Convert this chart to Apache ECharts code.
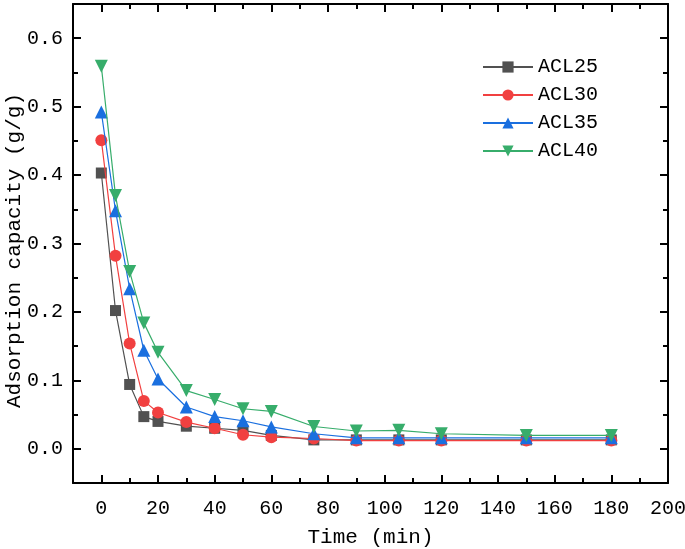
<!DOCTYPE html>
<html><head><meta charset="utf-8">
<script src="https://cdn.jsdelivr.net/npm/echarts@6/dist/echarts.min.js"></script>
<style>html,body{margin:0;padding:0;background:#fff}#c{width:685px;height:549px}</style>
</head><body><div id="c"></div>
<script>
var times = [0, 5, 10, 15, 20, 30, 40, 50, 60, 75, 90, 105, 120, 150, 180];
var acl25 = [0.403, 0.202, 0.094, 0.047, 0.040, 0.033, 0.030, 0.027, 0.0195, 0.013, 0.013, 0.013, 0.013, 0.013, 0.013];
var acl30 = [0.451, 0.282, 0.154, 0.070, 0.053, 0.039, 0.030, 0.0205, 0.017, 0.015, 0.012, 0.012, 0.012, 0.012, 0.012];
var acl35 = [0.492, 0.348, 0.234, 0.144, 0.102, 0.061, 0.047, 0.041, 0.032, 0.022, 0.016, 0.016, 0.016, 0.016, 0.016];
var acl40 = [0.559, 0.370, 0.259, 0.184, 0.141, 0.085, 0.072, 0.0585, 0.0546, 0.0326, 0.026, 0.027, 0.022, 0.0195, 0.0195];
var seriesNames = ['ACL25', 'ACL30', 'ACL35', 'ACL40'];
var colors = ['#515151', '#F14040', '#1A6FDF', '#37AD6B'];
var xMajor = [0, 20, 40, 60, 80, 100, 120, 140, 160, 180, 200];
var xMinor = [10, 30, 50, 70, 90, 110, 130, 150, 170, 190];
var yMajor = [0, 0.1, 0.2, 0.3, 0.4, 0.5, 0.6];
var yMinor = [0.05, 0.15, 0.25, 0.35, 0.45, 0.55];

var FONT = 'Liberation Mono';
function pairs(arr){ return times.map(function(t,i){ return [t, arr[i]]; }); }
var allData = [acl25, acl30, acl35, acl40];
var symbols = ['rect', 'circle', 'triangle', 'triangle'];
var rot = [0, 0, 0, 180];
var sizes = [11, 12, 13, 13];

function xAx(pos, vals, len, showLabel, showLine){
  return {type:'value', position:pos, min:-10, max:200,
    axisLine:{show:showLine, onZero:false, lineStyle:{color:'#000', width:2}},
    axisTick:{show:true, inside:true, length:len, customValues:vals, lineStyle:{color:'#000', width:2}},
    axisLabel:{show:showLabel, customValues:vals, margin:16, color:'#000', fontFamily:FONT, fontSize:20},
    splitLine:{show:false},
    name: showLabel ? 'Time (min)' : '', nameLocation:'middle', nameGap:44, nameMoveOverlap:false,
    nameTextStyle:{color:'#000', fontFamily:FONT, fontSize:21}
  };
}
function yAx(pos, vals, len, showLabel, showLine){
  return {type:'value', position:pos, min:-0.05, max:0.65,
    axisLine:{show:showLine, onZero:false, lineStyle:{color:'#000', width:2}},
    axisTick:{show:true, inside:true, length:len, customValues:vals, lineStyle:{color:'#000', width:2}},
    axisLabel:{show:showLabel, customValues:vals, margin:10, color:'#000', fontFamily:FONT, fontSize:20,
      formatter:function(v){ return v.toFixed(1); }},
    splitLine:{show:false},
    name: showLabel ? 'Adsorption capacity (g/g)' : '', nameLocation:'middle', nameGap:48, nameMoveOverlap:false,
    nameTextStyle:{color:'#000', fontFamily:FONT, fontSize:21, padding:[0,14,0,0]}
  };
}

var chart = echarts.init(document.getElementById('c'));
chart.setOption({
  animation:false,
  backgroundColor:'#fff',
  grid:{left:73, right:17, top:4, bottom:66, containLabel:false, outerBoundsMode:'none'},
  legend:{orient:'vertical', left:477, top:52, itemWidth:50, itemHeight:14, itemGap:8,
    textStyle:{fontFamily:FONT, fontSize:20, color:'#000'},
    data: seriesNames},
  xAxis:[
    xAx('bottom', xMajor, 8, true, true),
    xAx('bottom', xMinor, 5, false, false),
    xAx('top', xMajor, 8, false, true),
    xAx('top', xMinor, 5, false, false)
  ],
  yAxis:[
    yAx('left', yMajor, 8, true, true),
    yAx('left', yMinor, 5, false, false),
    yAx('right', yMajor, 8, false, true),
    yAx('right', yMinor, 5, false, false)
  ],
  series: seriesNames.map(function(n, i){
    return {name:n, type:'line', xAxisIndex:0, yAxisIndex:0, data:pairs(allData[i]),
      symbol:symbols[i], symbolSize:sizes[i], symbolRotate:rot[i], showAllSymbol:true,
      color:colors[i], lineStyle:{width:1.2, color:colors[i]}, itemStyle:{color:colors[i]}, z:2+i};
  })
});
</script></body></html>
